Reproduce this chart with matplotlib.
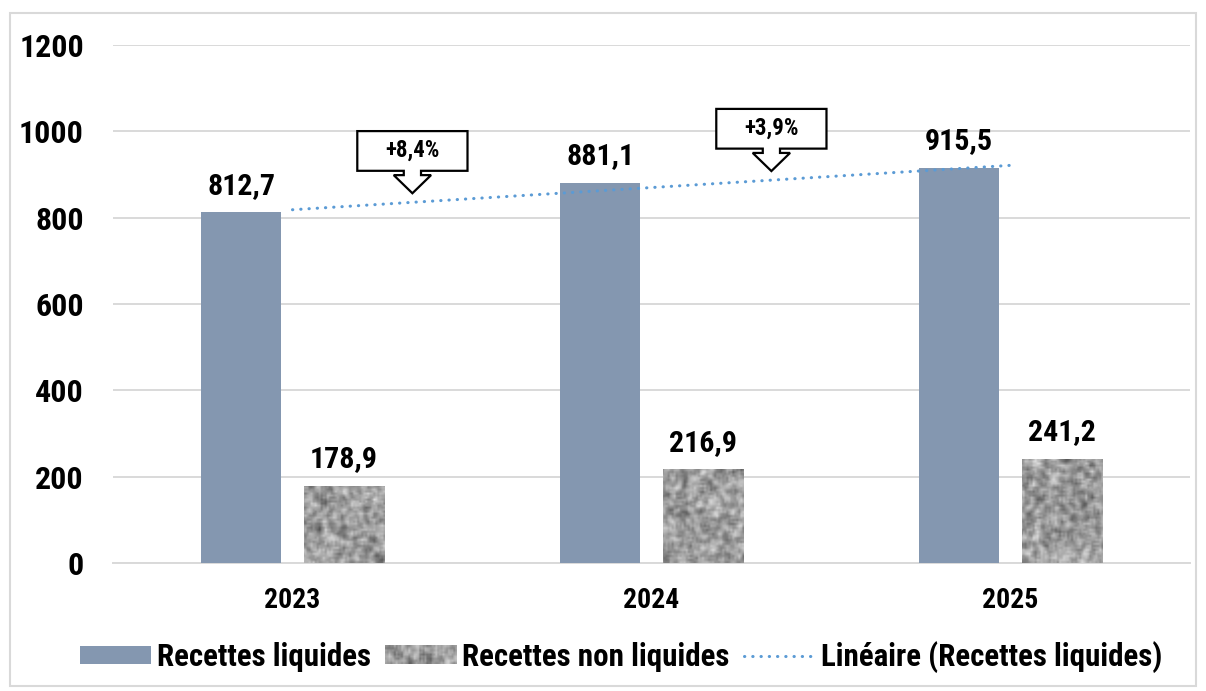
import numpy as np
import matplotlib
matplotlib.use("Agg")
import matplotlib.pyplot as plt
from matplotlib import font_manager as fm
from matplotlib.patches import Rectangle, Polygon, Patch
from matplotlib.lines import Line2D
from matplotlib.legend_handler import HandlerBase
from matplotlib.image import BboxImage
from matplotlib.transforms import Bbox, TransformedBbox
from matplotlib.colors import Normalize

# pick a condensed family that ships a bold face (Arial Narrow look-alike)
candidates = ['Roboto Condensed', 'PT Sans Narrow', 'IBM Plex Sans Condensed',
              'Fira Sans Condensed', 'Encode Sans Condensed', 'Archivo Narrow']
bold_fams = {f.name for f in fm.fontManager.ttflist
             if (f.weight if isinstance(f.weight, int) else 700 if 'bold' in str(f.weight) else 400) >= 700}
narrow = next((c for c in candidates if c in bold_fams), 'DejaVu Sans')
plt.rcParams['font.family'] = [narrow, 'DejaVu Sans']
plt.rcParams['font.weight'] = 'bold'

# data
years = ['2023', '2024', '2025']
liquides = [812.7, 881.1, 915.5]
non_liquides = [178.9, 216.9, 241.2]
growth = ['+8,4%', '+3,9%']
y_ticks = [0, 200, 400, 600, 800, 1000, 1200]

bar_color = '#8497B0'
trend_color = '#5B9BD5'
grid_color = '#D9D9D9'

def fmt(v):
    return f"{v:.1f}".replace('.', ',')

# deterministic mottled gray texture (hash noise + box blur)
def make_texture(rows, cols):
    j, i = np.meshgrid(np.arange(cols), np.arange(rows))
    t = np.sin(i * 12.9898 + j * 78.233) * 43758.5453
    t = t - np.floor(t)
    out = np.zeros_like(t)
    k = 1
    n = 0
    for di in range(-k, k + 1):
        for dj in range(-k, k + 1):
            out += np.roll(np.roll(t, di, axis=0), dj, axis=1)
            n += 1
    out /= n
    out = (out - out.min()) / (out.max() - out.min())
    return 0.3 + 0.65 * out

tex = make_texture(260, 540)

class TextureHandler(HandlerBase):
    def create_artists(self, legend, orig_handle, xdescent, ydescent,
                       width, height, fontsize, trans):
        bb = TransformedBbox(Bbox.from_bounds(-xdescent, -ydescent, width, height), trans)
        im = BboxImage(bb, cmap='gray', norm=Normalize(0, 1), interpolation='bilinear')
        im.set_data(tex[:9, :40])
        return [im]

fig = plt.figure(figsize=(12.06, 6.91), dpi=100)
ax = fig.add_axes([0.0937, 0.1852, 0.893, 0.7497])

x = np.arange(len(years))
w = 0.223
off = 0.143

b1 = ax.bar(x - off, liquides, w, color=bar_color, zorder=3)
b2 = ax.bar(x + off, non_liquides, w, color='none', zorder=3)
for r in b2:
    im = ax.imshow(tex, extent=(-0.5, 2.5, 0, 1200), cmap='gray', vmin=0, vmax=1,
                   interpolation='bilinear', aspect='auto', zorder=3)
    im.set_clip_path(r)

# value labels
for bars, vals in ((b1, liquides), (b2, non_liquides)):
    for r, v in zip(bars, vals):
        ax.annotate(fmt(v), (r.get_x() + r.get_width() / 2, v), xytext=(0, 9),
                    textcoords='offset points', ha='center', va='bottom',
                    fontsize=21.5, fontweight='bold')

# linear trendline of liquid receipts
coef = np.polyfit(x, liquides, 1)
ax.plot(x, np.polyval(coef, x), color=trend_color, lw=2.2,
        linestyle=(0, (0.1, 2.6)), dash_capstyle='round', zorder=4)

# growth callouts
def callout(cx, tip_y, label):
    bw, bh = 0.307, 92
    sh, hh = 0.024, 0.052
    head_h, shaft_h = 42, 10
    hy = tip_y + head_h
    by = hy + shaft_h
    pts = [(cx - bw / 2, by), (cx - sh, by), (cx - sh, hy), (cx - hh, hy),
           (cx, tip_y), (cx + hh, hy), (cx + sh, hy), (cx + sh, by),
           (cx + bw / 2, by), (cx + bw / 2, by + bh), (cx - bw / 2, by + bh)]
    ax.add_patch(Polygon(pts, closed=True, facecolor='white', edgecolor='black',
                         lw=1.6, zorder=5))
    ax.text(cx, by + bh / 2 + 1, label, ha='center', va='center',
            fontsize=16.5, fontweight='bold', zorder=6)

for i, g in enumerate(growth):
    cx = x[i] + 0.334
    callout(cx, np.polyval(coef, cx) + 21, g)

ax.set_xlim(-0.5, 2.5)
ax.set_ylim(0, 1200)
ax.set_yticks(y_ticks)
ax.set_xticks(x)
ax.set_xticklabels(years)
ax.tick_params(axis='y', length=0, pad=21, labelsize=23)
ax.tick_params(axis='x', length=0, pad=17, labelsize=20)
for t in ax.get_xticklabels() + ax.get_yticklabels():
    t.set_fontweight('bold')
ax.yaxis.grid(True, color=grid_color, lw=1.4, zorder=0)
ax.set_axisbelow(True)
for s in ['top', 'right', 'left']:
    ax.spines[s].set_visible(False)
ax.spines['bottom'].set_color(grid_color)
ax.spines['bottom'].set_linewidth(1.4)

# legend
h1 = Patch(facecolor=bar_color)
h2 = Patch(facecolor='#aaaaaa')
h3 = Line2D([], [], color=trend_color, lw=2.2, linestyle=(0, (0.1, 2.6)),
            dash_capstyle='round')
fig.legend([h1, h2, h3], ['Recettes liquides', 'Recettes non liquides',
                          'Linéaire (Recettes liquides)'],
           handler_map={h2: TextureHandler()}, loc='center',
           bbox_to_anchor=(0.515, 0.049), ncol=3, frameon=False,
           prop={'size': 22.3, 'weight': 'bold'}, handlelength=2.3,
           handleheight=0.55, handletextpad=0.2, columnspacing=0.45)

# outer border
fig.patches.append(Rectangle((10 / 1206, 5 / 691), 1186 / 1206, 673 / 691,
                             transform=fig.transFigure, fill=False,
                             edgecolor=grid_color, lw=1.5))

fig.savefig('out.png', dpi=100)
